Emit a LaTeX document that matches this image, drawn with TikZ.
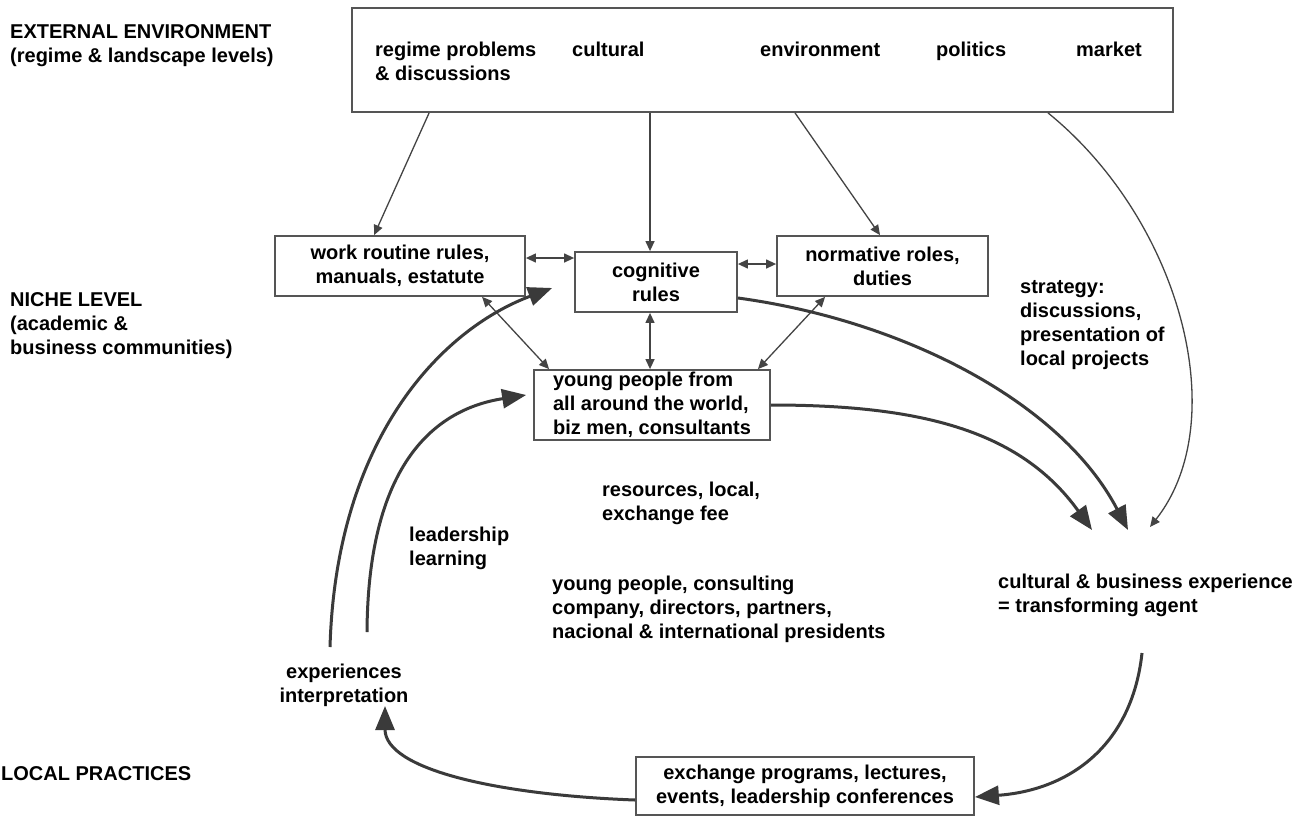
\documentclass[tikz,border=0pt]{standalone}
\usepackage{fontspec}
\setmainfont{Liberation Sans}
\usetikzlibrary{arrows.meta}
\definecolor{ln}{HTML}{444444}
\definecolor{thk}{HTML}{3A3A3A}
\definecolor{bx}{HTML}{555555}
\begin{document}
\begin{tikzpicture}[x=1pt,y=-1pt,
  every node/.style={font=\fontsize{20}{24}\selectfont\bfseries, inner sep=0pt},
  box/.style={draw=bx, line width=1.8pt},
  lbl/.style={anchor=west, align=left},
  one/.style={text height=14.5pt, text depth=4.2pt},
  thinar/.style={draw=ln, line width=1.3pt, -{Triangle[length=10pt,width=9pt]}},
  dblar/.style={draw=ln, line width=1.3pt, {Triangle[length=10pt,width=9pt]}-{Triangle[length=10pt,width=9pt]}},
  thickar/.style={draw=thk, line width=3pt, -{Triangle[length=24pt,width=19pt]}}]
\fill[white] (0,0) rectangle (1305,830);
\useasboundingbox (0,0) rectangle (1305,830);

% top box
\node[box, minimum width=821pt, minimum height=104pt] (ext) at (762.5,60) {};
\node[lbl] (rp) at (375,61) {regime problems\\\& discussions};
\node[lbl, one] (cu) at (572,51) {cultural};
\node[lbl, one] (en) at (760,51) {environment};
\node[lbl, one] (po) at (936,51) {politics};
\node[lbl, one] (ma) at (1076,51) {market};

% level labels
\node[lbl] (ee) at (10,45.5) {EXTERNAL ENVIRONMENT\\(regime \& landscape levels)};
\node[lbl] (nl) at (10,326) {NICHE LEVEL\\(academic \&\\business communities)};
\node[lbl, one] (lp) at (1,775) {LOCAL PRACTICES};

% boxes
\node[box, minimum width=250pt, minimum height=60pt, align=center] (wr) at (400,266) {work routine rules,\\manuals, estatute};
\node[box, minimum width=162pt, minimum height=60pt, align=center] (cog) at (656,282) {cognitive\\rules};
\node[box, minimum width=211pt, minimum height=60pt, align=center] (norm) at (882.5,266) {normative roles,\\duties};
\node[box, minimum width=236pt, minimum height=70pt, align=left] (young) at (652,405) {young people from\\all around the world,\\biz men, consultants};
\node[box, minimum width=338pt, minimum height=58pt, align=center] (exch) at (805,786) {exchange programs, lectures,\\events, leadership conferences};

% free texts
\node[lbl] (strat) at (1020,325.5) {strategy:\\discussions,\\presentation of\\local projects};
\node[lbl] (res) at (602,503) {resources, local,\\exchange fee};
\node[lbl] (ll) at (409,548) {leadership\\learning};
\node[lbl] (yp) at (552,609) {young people, consulting\\company, directors, partners,\\nacional \& international presidents};
\node[lbl] (cbe) at (998,595) {cultural \& business experience\\= transforming agent};
\node[align=center] (exp) at (344,685) {experiences\\interpretation};

% connector ends
\coordinate (t1) at (1092,530);
\coordinate (t2) at (1128,530);
\coordinate (t3) at (1150,527);
\coordinate (s1) at (330,647);
\coordinate (s2) at (367,632);
\coordinate (s3) at (1142,653);
\coordinate (t5) at (385,706);

% thin arrows from top box
\draw[thinar] ([xshift=78pt]ext.south west) -- ([xshift=100pt]wr.north west);
\draw[thinar] ([xshift=-112.5pt]ext.south) -- ([xshift=-6pt]cog.north);
\draw[thinar] ([xshift=32.5pt]ext.south) -- ([xshift=-2.5pt]norm.north);
\draw[thinar] ([xshift=285.5pt]ext.south) .. controls (1180,220) and (1234,420) .. (t3);

% double arrows
\draw[dblar] ([yshift=8pt]wr.east) -- ([yshift=8pt]wr.east -| cog.west);
\draw[dblar] ([yshift=18pt]cog.east) -- ([yshift=18pt]cog.east -| norm.west);
\draw[dblar] ([xshift=208pt]wr.south west) -- ([xshift=16pt]young.north west);
\draw[dblar] ([xshift=-6pt]cog.south) -- ([xshift=-6pt]cog.south |- young.north);
\draw[dblar] ([xshift=49pt]norm.south west) -- ([xshift=-13pt]young.north east);

% thick arrows
\draw[thickar] ([yshift=-16pt]cog.east) .. controls (900,320) and (1060,400) .. (t2);
\draw[thickar] (young.east) .. controls (920,405) and (1020,430) .. (t1);
\draw[thickar] (s1) .. controls (336,440) and (440,330) .. ([xshift=-22pt,yshift=-6pt]cog.west);
\draw[thickar] (s2) .. controls (368,470) and (430,410) .. ([xshift=-7pt,yshift=10pt]young.west);
\draw[thickar] (s3) .. controls (1132,745) and (1070,790) .. ([yshift=-11pt]exch.east);
\draw[thickar] ([yshift=-14pt]exch.west) .. controls (500,795) and (385,770) .. (t5);
\end{tikzpicture}
\end{document}
